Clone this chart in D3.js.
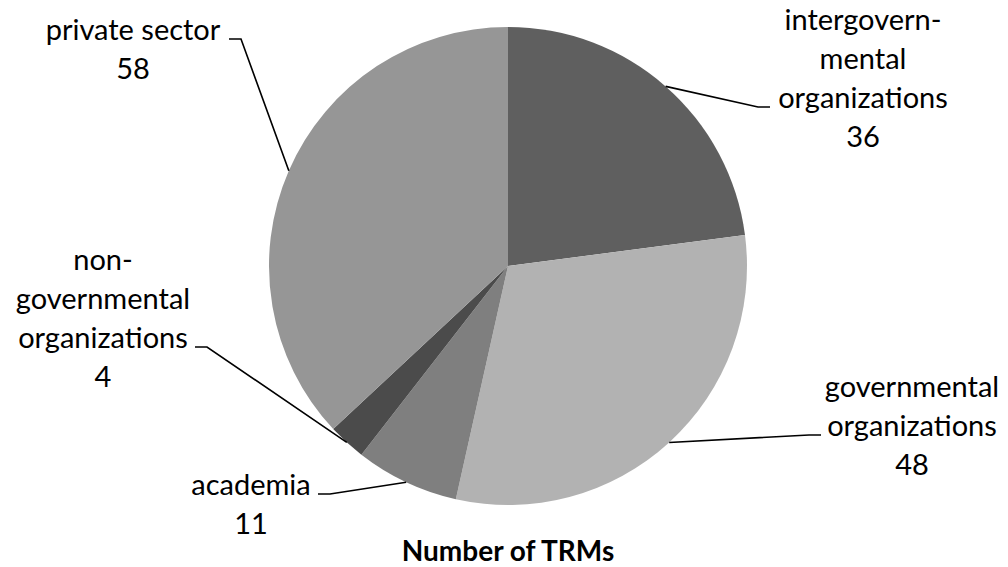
<!DOCTYPE html>
<html>
<head>
<meta charset="utf-8">
<script src="https://cdn.jsdelivr.net/npm/d3@7"></script>
<style>
  html, body { margin: 0; padding: 0; background: #fff; }
  svg text { font-family: Lato, "Open Sans", sans-serif; fill: #000; }
</style>
</head>
<body>
<svg id="chart" width="1008" height="567"></svg>
<script>
// Number of TRMs by type of organization
const categories = [
  "intergovernmental organizations",
  "governmental organizations",
  "academia",
  "non-governmental organizations",
  "private sector"
];
const values = [36, 48, 11, 4, 58];
// Wrapped label lines as printed next to each slice
const labelLines = [
  ["intergovern-", "mental", "organizations"],
  ["governmental", "organizations"],
  ["academia"],
  ["non-", "governmental", "organizations"],
  ["private sector"]
];
const sliceColors = ["#5f5f5f", "#b2b2b2", "#7f7f7f", "#4b4b4b", "#969696"];
const chartTitle = "Number of TRMs";

// Layout: label block centre, first baseline, line the leader ties to, leader elbow x
const layout = [
  { cx: 863, y0: 30,  tie: 2, side: "left",  ex: 770 },
  { cx: 912, y0: 397, tie: 1, side: "left",  ex: 821 },
  { cx: 251, y0: 495, tie: 0, side: "right", ex: 318 },
  { cx: 103, y0: 270, tie: 2, side: "right", ex: 195 },
  { cx: 133, y0: 40,  tie: 0, side: "right", ex: 229 }
];
const lineH = 39;
const fontSize = 29;

const svg = d3.select("#chart");
const cx = 508, cy = 266, r = 239;

const data = categories.map((c, i) => ({ name: c, value: values[i], i }));
const pie = d3.pie().value(d => d.value).sort(null);
const arcs = pie(data);
const arc = d3.arc().innerRadius(0).outerRadius(r);

const g = svg.append("g").attr("transform", `translate(${cx},${cy})`);
g.selectAll("path.slice")
  .data(arcs)
  .join("path")
  .attr("class", "slice")
  .attr("d", arc)
  .attr("fill", d => sliceColors[d.data.i]);

// Labels with leader lines
const labelG = svg.append("g");
arcs.forEach(a => {
  const i = a.data.i;
  const L = layout[i];
  const lines = labelLines[i].concat([String(values[i])]);
  const t = labelG.append("text")
    .attr("text-anchor", "middle")
    .attr("font-size", fontSize);
  lines.forEach((s, k) => {
    t.append("tspan").attr("x", L.cx).attr("y", L.y0 + k * lineH).text(s);
  });
  // anchor on the arc at the slice's mid angle
  const mid = (a.startAngle + a.endAngle) / 2;
  const ax = cx + r * Math.sin(mid);
  const ay = cy - r * Math.cos(mid);
  const ly = L.y0 + L.tie * lineH - 1;
  const ex2 = L.side === "left" ? L.ex - 12 : L.ex + 12;
  labelG.append("path")
    .attr("d", `M${L.ex},${ly}L${ex2},${ly}L${ax},${ay}`)
    .attr("fill", "none")
    .attr("stroke", "#000")
    .attr("stroke-width", 1.6);
});

svg.append("text")
  .attr("x", cx)
  .attr("y", 561)
  .attr("text-anchor", "middle")
  .attr("font-size", 28)
  .attr("font-weight", "bold")
  .text(chartTitle);
</script>
</body>
</html>
